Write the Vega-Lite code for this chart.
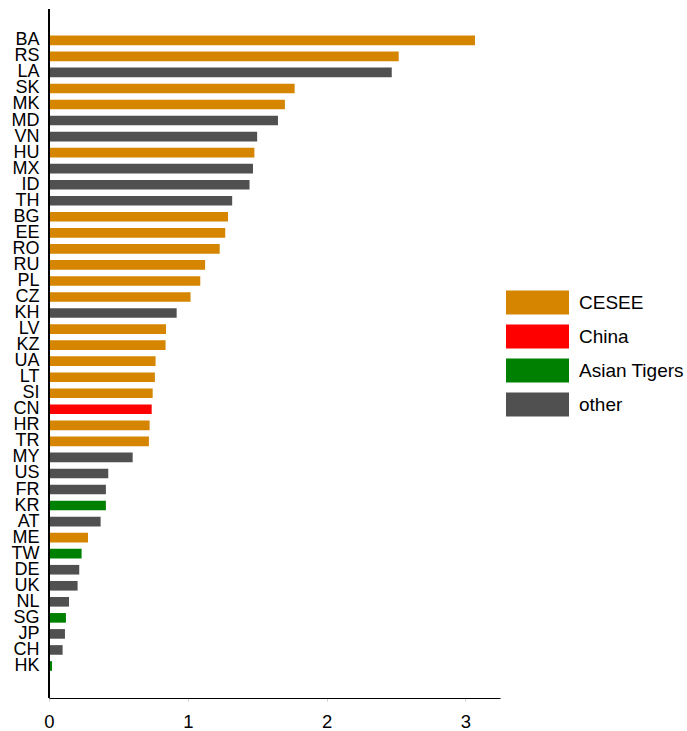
{
  "$schema": "https://vega.github.io/schema/vega-lite/v6.json",
  "width": 451,
  "height": 689,
  "padding": {"left": 5, "top": 8, "right": 0, "bottom": 0},
  "background": "white",
  "config": {
    "font": "Liberation Sans",
    "view": {"stroke": null}
  },
  "data": {
    "values": [
      {"country": "BA", "group": "CESEE", "value": 3.07},
      {"country": "RS", "group": "CESEE", "value": 2.52},
      {"country": "LA", "group": "other", "value": 2.47},
      {"country": "SK", "group": "CESEE", "value": 1.77},
      {"country": "MK", "group": "CESEE", "value": 1.70},
      {"country": "MD", "group": "other", "value": 1.65},
      {"country": "VN", "group": "other", "value": 1.50},
      {"country": "HU", "group": "CESEE", "value": 1.48},
      {"country": "MX", "group": "other", "value": 1.47},
      {"country": "ID", "group": "other", "value": 1.445},
      {"country": "TH", "group": "other", "value": 1.32},
      {"country": "BG", "group": "CESEE", "value": 1.29},
      {"country": "EE", "group": "CESEE", "value": 1.27},
      {"country": "RO", "group": "CESEE", "value": 1.23},
      {"country": "RU", "group": "CESEE", "value": 1.125},
      {"country": "PL", "group": "CESEE", "value": 1.09},
      {"country": "CZ", "group": "CESEE", "value": 1.02},
      {"country": "KH", "group": "other", "value": 0.92},
      {"country": "LV", "group": "CESEE", "value": 0.843},
      {"country": "KZ", "group": "CESEE", "value": 0.84},
      {"country": "UA", "group": "CESEE", "value": 0.768},
      {"country": "LT", "group": "CESEE", "value": 0.763},
      {"country": "SI", "group": "CESEE", "value": 0.747},
      {"country": "CN", "group": "China", "value": 0.74},
      {"country": "HR", "group": "CESEE", "value": 0.725},
      {"country": "TR", "group": "CESEE", "value": 0.72},
      {"country": "MY", "group": "other", "value": 0.603},
      {"country": "US", "group": "other", "value": 0.427},
      {"country": "FR", "group": "other", "value": 0.41},
      {"country": "KR", "group": "Asian Tigers", "value": 0.41},
      {"country": "AT", "group": "other", "value": 0.372},
      {"country": "ME", "group": "CESEE", "value": 0.281},
      {"country": "TW", "group": "Asian Tigers", "value": 0.235},
      {"country": "DE", "group": "other", "value": 0.218},
      {"country": "UK", "group": "other", "value": 0.206},
      {"country": "NL", "group": "other", "value": 0.144},
      {"country": "SG", "group": "Asian Tigers", "value": 0.122},
      {"country": "JP", "group": "other", "value": 0.115},
      {"country": "CH", "group": "other", "value": 0.098},
      {"country": "HK", "group": "Asian Tigers", "value": 0.022}
    ]
  },
  "layer": [
    {
      "mark": {"type": "bar"},
      "encoding": {
        "y": {
          "field": "country",
          "type": "nominal",
          "sort": null,
          "scale": {"range": [26.5, 661.8], "paddingInner": 0.4, "paddingOuter": 0},
          "axis": {
            "title": null,
            "ticks": false,
            "domain": false,
            "labelFontSize": 18,
            "labelColor": "#000",
            "labelPadding": 10,
            "minExtent": 44,
            "maxExtent": 44,
            "grid": false
          }
        },
        "x": {
          "field": "value",
          "type": "quantitative",
          "scale": {"domain": [0, 3.25], "nice": false, "zero": true},
          "axis": {
            "title": null,
            "values": [0, 1, 2, 3],
            "format": "d",
            "grid": false,
            "tickSize": 3,
            "tickColor": "#cccccc",
            "labelFontSize": 18.5,
            "labelColor": "#000",
            "labelPadding": 11,
            "labelFlush": false,
            "domainColor": "#000",
            "domainWidth": 1
          }
        },
        "color": {
          "field": "group",
          "type": "nominal",
          "scale": {
            "domain": ["CESEE", "China", "Asian Tigers", "other"],
            "range": ["#d58500", "#ff0000", "#008000", "#505050"]
          },
          "legend": {
            "title": null,
            "orient": "none",
            "legendX": 479,
            "legendY": 284,
            "symbolType": "M-6.3,-2.4H6.3V2.4H-6.3Z",
            "symbolSize": 100,
            "symbolStrokeWidth": 0,
            "symbolOpacity": 1,
            "labelFontSize": 19,
            "labelColor": "#000",
            "labelOffset": 32,
            "rowPadding": 9,
            "labelLimit": 200
          }
        }
      }
    },
    {
      "mark": {"type": "rule", "color": "#000", "strokeWidth": 1},
      "encoding": {"x": {"datum": 0}}
    }
  ]
}
